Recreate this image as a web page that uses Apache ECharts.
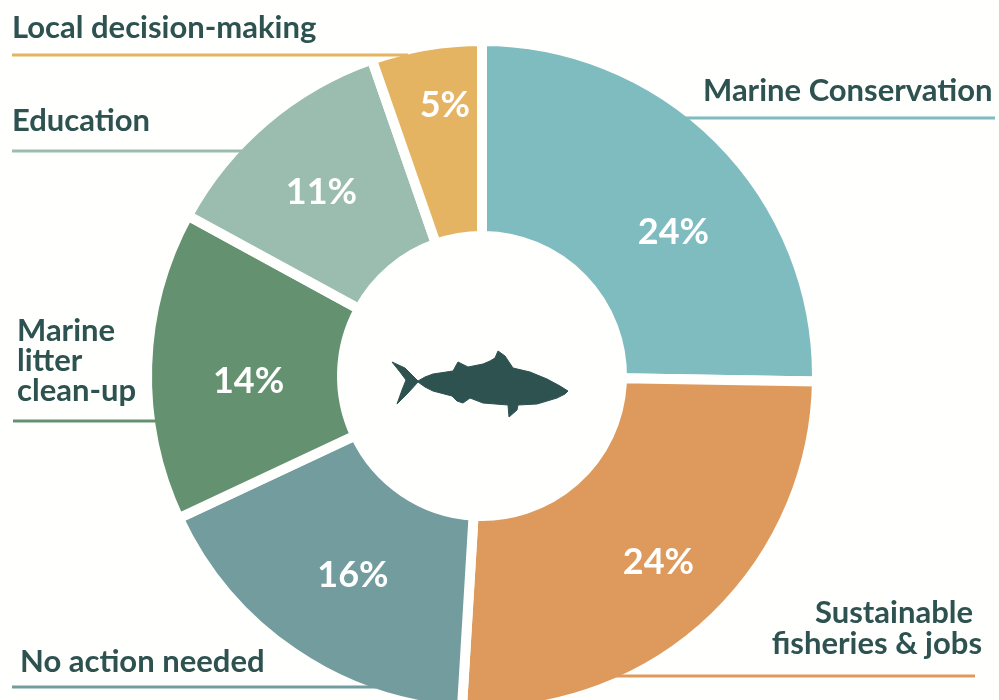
<!DOCTYPE html>
<html><head><meta charset="utf-8">
<style>html,body{margin:0;padding:0;background:#fffffd}#c{width:999px;height:700px}</style>
<script src="https://cdn.jsdelivr.net/npm/echarts@6/dist/echarts.min.js"></script>
</head><body><div id="c"></div>
<script>
const categories = ['Marine Conservation','Sustainable fisheries & jobs','No action needed','Marine litter clean-up','Education','Local decision-making'];
const values = [23.7, 24.1, 16, 14, 11, 5];
const percentLabels = ['24%','24%','16%','14%','11%','5%'];
const colors = ['#7fbcc0','#dd9a5c','#729c9d','#64916f','#9abdb0','#e4b463'];
const ink = '#2d5250';
const font = 'Lato';

const chart = echarts.init(document.getElementById('c'), null, {renderer:'canvas'});
const labelOffsets = [[20,25],[13,10],[6,0],[7,13],[-5,0],[3,-33]];

function nameText(lines, x, y, align){
  return lines.map((t,i)=>({type:'text',z:5,style:{text:t,x:x,y:y+i*30,align:align,verticalAlign:'middle',
    fill:ink,font:'bold 31px '+font}}));
}
function rule(x1,x2,y,color){
  return {type:'line',z:3,shape:{x1:x1,y1:y,x2:x2,y2:y},style:{stroke:color,lineWidth:3}};
}
const fish = {type:'polygon',z:6,
  shape:{points:[[392,362],[405,368],[412,375],[418,381],[425,377],[433,374],[453,371],[458,362],[468,367],[483,364],[490,361],[495,358],[498,351],[505,356],[513,368],[530,372],[547,379],[560,386],[568,391],[565,394],[557,398],[537,404],[518,405],[517,410],[509,417],[508,405],[483,403],[470,398],[463,403],[457,401],[452,396],[433,391],[425,387],[418,382],[408,393],[397,404],[402,390],[406,380],[400,372]]},
  style:{fill:ink,stroke:ink,lineWidth:1,lineJoin:'round'}};

chart.setOption({
  animation:false,
  backgroundColor:'#fffffd',
  graphic:[
    rule(12,408,55,colors[5]),
    rule(12,244,151,colors[4]),
    rule(13,158,421,colors[3]),
    rule(12,376,687,colors[2]),
    rule(685,995,118,colors[0]),
    rule(616,975,676,colors[1]),
    ...nameText([categories[5]],12,28,'left'),
    ...nameText([categories[4]],12,121,'left'),
    ...nameText(['Marine','litter','clean-up'],17,331,'left'),
    ...nameText([categories[2]],20,662,'left'),
    ...nameText([categories[0]],703,91,'left'),
    ...nameText(['Sustainable'],973,613,'right'),
    ...nameText(['fisheries & jobs'],982,644,'right'),
    fish
  ],
  series:[{
    type:'pie',z:2,
    center:[482,376],radius:[140,335],
    startAngle:90,clockwise:true,
    silent:true,
    itemStyle:{borderColor:'#fffffd',borderWidth:10},
    labelLine:{show:false},
    label:{show:true,position:'inside',color:'#fff',fontFamily:font,fontWeight:'bold',fontSize:36},
    data:categories.map((n,i)=>({name:n,value:values[i],
      itemStyle:{color:colors[i]},
      label:{formatter:percentLabels[i],offset:labelOffsets[i]}}))
  }]
});
</script></body></html>
